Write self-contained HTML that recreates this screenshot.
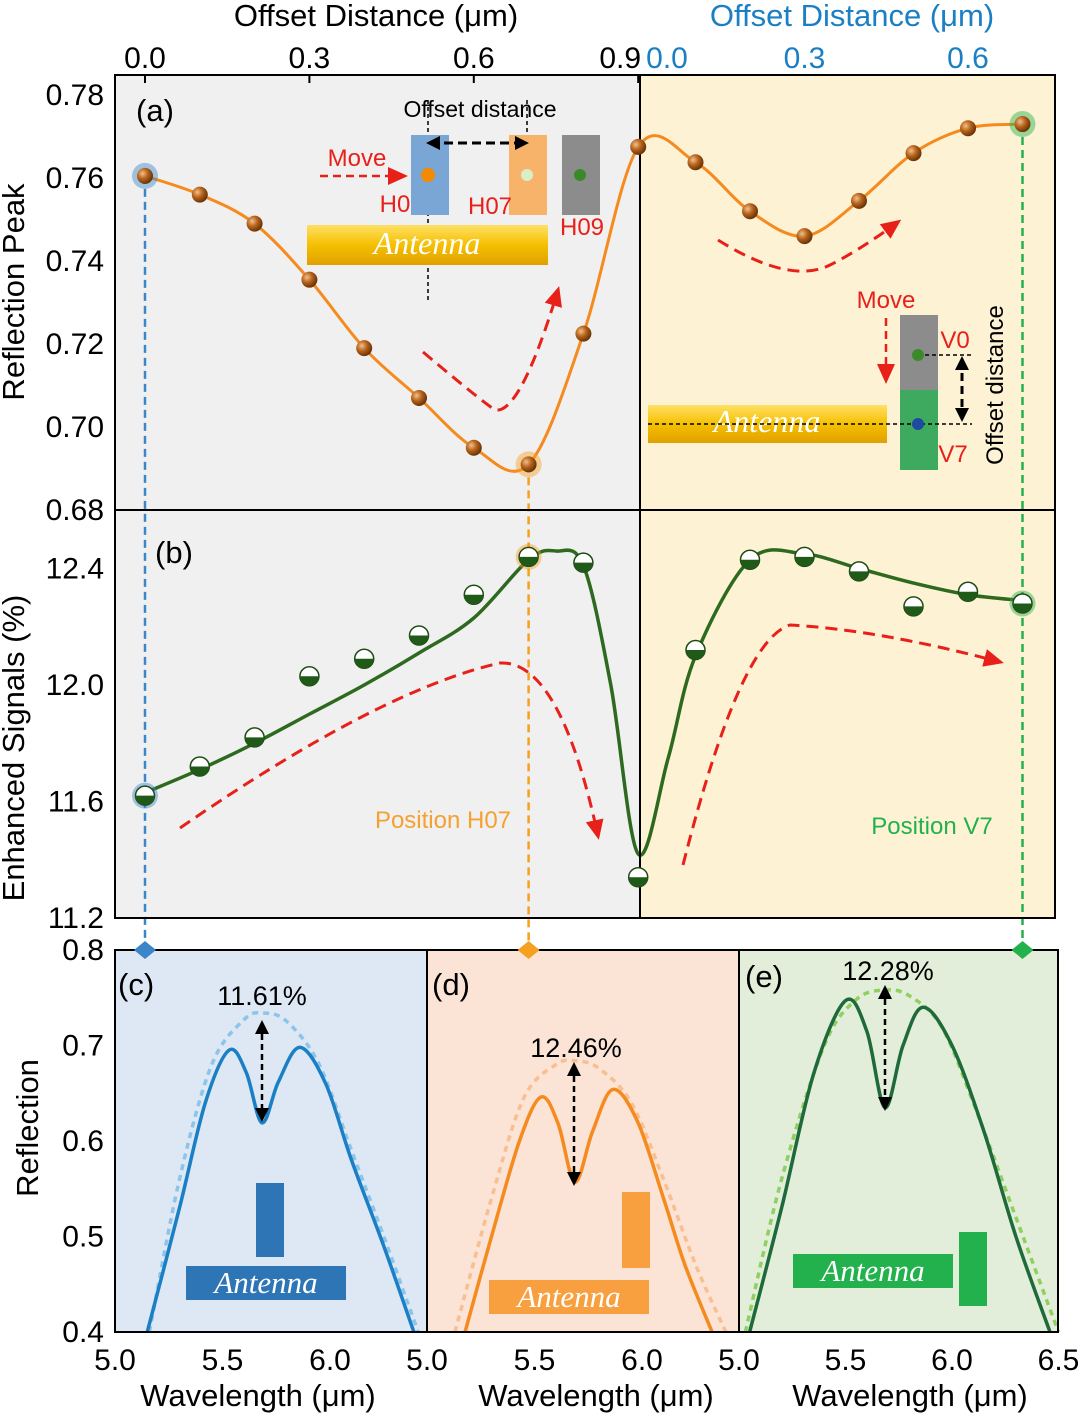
<!DOCTYPE html>
<html><head><meta charset="utf-8"><style>
html,body{margin:0;padding:0;background:#fff}
svg{display:block;font-family:"Liberation Sans",sans-serif}
</style></head><body>
<svg id="fig" width="1080" height="1418" viewBox="0 0 1080 1418">
<defs>
<radialGradient id="ball" cx="35%" cy="35%" r="65%"><stop offset="0" stop-color="#f3c08a"/><stop offset="0.5" stop-color="#b8641c"/><stop offset="1" stop-color="#6b3508"/></radialGradient>
<linearGradient id="gold" x1="0" y1="0" x2="0" y2="1"><stop offset="0" stop-color="#ffe066"/><stop offset="0.5" stop-color="#f5c000"/><stop offset="1" stop-color="#e0a000"/></linearGradient>
<marker id="ar" markerUnits="userSpaceOnUse" markerWidth="22" markerHeight="22" refX="16" refY="11" orient="auto"><path d="M0,2L20,11L0,20z" fill="#e8201a"/></marker>
<marker id="ak" markerUnits="userSpaceOnUse" markerWidth="14" markerHeight="14" refX="10" refY="7" orient="auto"><path d="M0,0L14,7L0,14z" fill="#000"/></marker>
<marker id="aks" markerUnits="userSpaceOnUse" markerWidth="14" markerHeight="14" refX="4" refY="7" orient="auto"><path d="M14,0L0,7L14,14z" fill="#000"/></marker>
</defs>
<rect x="115" y="75" width="525" height="843" fill="#f0f0f0"/>
<rect x="640" y="75" width="415" height="843" fill="#fdf2d3"/>
<rect x="115" y="950" width="312" height="382" fill="#dde8f4"/>
<rect x="427" y="950" width="312" height="382" fill="#fbe3d6"/>
<rect x="739" y="950" width="319" height="382" fill="#e2eed9"/>
<g id="layer"></g>
<g fill="none" stroke="#000" stroke-width="2">
<rect x="115" y="75" width="940" height="843"/>
<line x1="115" y1="510" x2="1055" y2="510"/>
<line x1="640" y1="75" x2="640" y2="918"/>
<rect x="115" y="950" width="943" height="382"/>
<line x1="427" y1="950" x2="427" y2="1332"/><line x1="739" y1="950" x2="739" y2="1332"/>
</g>
<g font-size="31">
<text x="376" y="26" text-anchor="middle">Offset Distance (μm)</text>
<text x="852" y="26" text-anchor="middle" fill="#1a7fc4">Offset Distance (μm)</text>
<text transform="translate(24,292) rotate(-90)" text-anchor="middle">Reflection Peak</text>
<text transform="translate(24,748) rotate(-90)" text-anchor="middle">Enhanced Signals (%)</text>
<text transform="translate(38,1128) rotate(-90)" text-anchor="middle">Reflection</text>
<text x="258" y="1406" text-anchor="middle">Wavelength (μm)</text>
<text x="596" y="1406" text-anchor="middle">Wavelength (μm)</text>
<text x="910" y="1406" text-anchor="middle">Wavelength (μm)</text>
<text x="136" y="121">(a)</text>
<text x="155" y="563">(b)</text>
<text x="118" y="995">(c)</text>
<text x="432" y="995">(d)</text>
<text x="745" y="987">(e)</text>
</g>
<g>
<text x="480" y="117" font-size="23" text-anchor="middle">Offset distance</text>
<line x1="428" y1="100" x2="428" y2="302" stroke="#000" stroke-dasharray="4,3" stroke-width="1.5"/>
<line x1="527" y1="100" x2="527" y2="180" stroke="#000" stroke-dasharray="4,3" stroke-width="1.5"/>
<text x="357" y="166" font-size="24" fill="#e8201a" text-anchor="middle">Move</text>
<rect x="411" y="135" width="38" height="80" fill="#7aa6d6"/><circle cx="428" cy="175" r="7" fill="#f58a00"/>
<rect x="509" y="135" width="38" height="80" fill="#f8b36a"/><circle cx="527" cy="175" r="6" fill="#d8f0c8"/>
<rect x="562" y="135" width="38" height="80" fill="#8c8c8c"/><circle cx="580" cy="175" r="6" fill="#3a8a2a"/>
<line x1="430" y1="143" x2="525" y2="143" stroke="#000" stroke-width="3" stroke-dasharray="9,5" marker-end="url(#ak)" marker-start="url(#aks)"/>
<line x1="320" y1="176" x2="404" y2="176" stroke="#e8201a" stroke-width="2.5" stroke-dasharray="8,5" marker-end="url(#ar)"/>
<text x="395" y="212" font-size="24" fill="#e8201a" text-anchor="middle">H0</text>
<text x="490" y="214" font-size="24" fill="#e8201a" text-anchor="middle">H07</text>
<text x="582" y="235" font-size="24" fill="#e8201a" text-anchor="middle">H09</text>
<rect x="307" y="225" width="241" height="40" fill="url(#gold)"/>
<text x="427" y="254" font-size="32" font-style="italic" font-family="Liberation Serif,serif" fill="#fff" text-anchor="middle">Antenna</text>
</g>
<g>
<text x="886" y="308" font-size="24" fill="#e8201a" text-anchor="middle">Move</text>
<line x1="886" y1="318" x2="886" y2="380" stroke="#e8201a" stroke-width="2.5" stroke-dasharray="8,5" marker-end="url(#ar)"/>
<rect x="900" y="315" width="38" height="75" fill="#8c8c8c"/><rect x="900" y="390" width="38" height="80" fill="#3daa60"/>
<rect x="648" y="405" width="239" height="38" fill="url(#gold)"/>
<text x="767" y="432" font-size="32" font-style="italic" font-family="Liberation Serif,serif" fill="#fff" text-anchor="middle">Antenna</text>
<line x1="918" y1="355" x2="972" y2="355" stroke="#000" stroke-dasharray="4,3" stroke-width="1.5"/>
<line x1="648" y1="424" x2="972" y2="424" stroke="#000" stroke-dasharray="4,3" stroke-width="1.5"/>
<circle cx="918" cy="355" r="6" fill="#3a8a2a"/><circle cx="918" cy="424" r="6" fill="#1f4aa0"/>
<line x1="962" y1="360" x2="962" y2="418" stroke="#000" stroke-width="3" stroke-dasharray="8,5" marker-end="url(#ak)" marker-start="url(#aks)"/>
<text x="955" y="348" font-size="24" fill="#e8201a" text-anchor="middle">V0</text>
<text x="953" y="462" font-size="24" fill="#e8201a" text-anchor="middle">V7</text>
<text transform="translate(1003,385) rotate(-90)" font-size="24" text-anchor="middle">Offset distance</text>
</g>
<g fill="none" stroke="#e8201a" stroke-width="3" stroke-dasharray="12,7">
<path d="M423,352 Q480,400 495,410 Q520,415 558,290" marker-end="url(#ar)"/>
<path d="M718,240 Q790,285 830,265 Q860,250 898,222" marker-end="url(#ar)"/>
<path d="M180,828 Q380,690 500,663 Q560,660 598,836" marker-end="url(#ar)"/>
<path d="M683,865 Q740,640 790,625 Q880,630 1000,662" marker-end="url(#ar)"/>
</g>
<text x="443" y="828" font-size="24" fill="#f5a030" text-anchor="middle">Position H07</text>
<text x="932" y="834" font-size="24" fill="#22b14c" text-anchor="middle">Position V7</text>
<rect x="256" y="1183" width="28" height="74" fill="#2e75b6"/>
<rect x="186" y="1266" width="160" height="34" fill="#2e75b6"/>
<text x="266" y="1293" font-size="31" font-style="italic" font-family="Liberation Serif,serif" fill="#fff" text-anchor="middle">Antenna</text>
<rect x="622" y="1192" width="28" height="76" fill="#f8a040"/>
<rect x="489" y="1280" width="160" height="34" fill="#f8a040"/>
<text x="569" y="1307" font-size="31" font-style="italic" font-family="Liberation Serif,serif" fill="#fff" text-anchor="middle">Antenna</text>
<rect x="959" y="1232" width="28" height="74" fill="#22b14c"/>
<rect x="793" y="1254" width="160" height="34" fill="#22b14c"/>
<text x="873" y="1281" font-size="31" font-style="italic" font-family="Liberation Serif,serif" fill="#fff" text-anchor="middle">Antenna</text>
<g font-size="27" text-anchor="middle">
<text x="262" y="1005">11.61%</text>
<text x="576" y="1057">12.46%</text>
<text x="888" y="980">12.28%</text>
</g>
<g stroke="#000" stroke-width="2.5" stroke-dasharray="6,4" fill="none">
<line x1="262" y1="1024" x2="262" y2="1118" marker-end="url(#ak)" marker-start="url(#aks)"/>
<line x1="574" y1="1066" x2="574" y2="1182" marker-end="url(#ak)" marker-start="url(#aks)"/>
<line x1="885" y1="989" x2="885" y2="1107" marker-end="url(#ak)" marker-start="url(#aks)"/>
</g>
<g id="layer2"></g>
</svg>
<script>
const offsets = [0,0.1,0.2,0.3,0.4,0.5,0.6,0.7,0.8,0.9];
const offsetsRight = [0.1,0.2,0.3,0.4,0.5,0.6,0.7];
const peakLeft = [0.7605,0.756,0.749,0.7355,0.719,0.707,0.695,0.691,0.7225,0.7675];
const peakRight = [0.7638,0.752,0.746,0.7545,0.766,0.772,0.773];
const sigLeft = [11.62,11.72,11.82,12.03,12.09,12.17,12.31,12.44,12.42,11.34];
const sigRight = [12.12,12.43,12.44,12.39,12.27,12.32,12.28];
const fitBLeftX = [0,0.1,0.2,0.3,0.4,0.5,0.6,0.7,0.75,0.8,0.85,0.9];
const fitBLeftY = [11.63,11.71,11.80,11.90,12.0,12.11,12.23,12.43,12.46,12.41,12.0,11.42];
const fitBRightX = [0.05,0.1,0.2,0.3,0.4,0.5,0.6,0.7];
const fitBRightY = [11.75,12.1,12.43,12.45,12.40,12.35,12.31,12.29];
const topTicksLeft = ["0.0","0.3","0.6","0.9"];
const topTicksRight = ["0.0","0.3","0.6"];
const ticksA = ["0.78","0.76","0.74","0.72","0.70","0.68"];
const ticksB = ["12.4","12.0","11.6","11.2"];
const ticksR = ["0.8","0.7","0.6","0.5","0.4"];
const ticksW = ["5.0","5.5","6.0"];
const specCSolidX = [5.15,5.3,5.42,5.53,5.61,5.684,5.76,5.86,5.98,6.1,6.25,6.39];
const specCSolidY = [0.40,0.53,0.64,0.695,0.672,0.619,0.662,0.698,0.66,0.58,0.49,0.40];
const specCDashX = [5.16,5.3,5.45,5.6,5.69,5.8,5.95,6.1,6.25,6.41];
const specCDashY = [0.40,0.56,0.68,0.727,0.734,0.725,0.68,0.59,0.50,0.40];
const specDSolidX = [5.177,5.3,5.43,5.53,5.61,5.688,5.77,5.865,5.98,6.1,6.2,6.326];
const specDSolidY = [0.40,0.50,0.60,0.646,0.618,0.557,0.61,0.654,0.62,0.54,0.47,0.40];
const specDDashX = [5.13,5.3,5.45,5.6,5.69,5.8,5.95,6.1,6.25,6.39];
const specDDashY = [0.40,0.54,0.645,0.68,0.684,0.676,0.64,0.56,0.47,0.40];
const specESolidX = [5.05,5.2,5.35,5.5,5.6,5.685,5.77,5.865,6.0,6.15,6.3,6.46];
const specESolidY = [0.40,0.53,0.67,0.747,0.715,0.635,0.70,0.74,0.70,0.61,0.50,0.40];
const specEDashX = [5.03,5.2,5.4,5.55,5.685,5.8,5.95,6.1,6.3,6.5];
const specEDashY = [0.40,0.56,0.70,0.748,0.758,0.752,0.72,0.64,0.52,0.40];
const xL = d => 145 + d*548;
const xR = d => 641 + d*545;
const yA = v => 95 + (0.78 - v)/0.02*83;
const yB = v => 918 - (v - 11.2)/0.4*116.5;
const yR = v => 950 + (0.8 - v)/0.1*95.5;
const wC = w => 115 + (w-5)/0.5*107.5;
const wD = w => 427 + (w-5)/0.5*107.5;
const wE = w => 739 + (w-5)/0.5*106.5;
const NS='http://www.w3.org/2000/svg';
const layer=document.getElementById('layer');
const layer2=document.getElementById('layer2');
function mk(tag,attrs,parent){const e=document.createElementNS(NS,tag);for(const k in attrs)e.setAttribute(k,attrs[k]);(parent||layer2).appendChild(e);return e;}
function smooth(p){let d='M'+p[0][0]+','+p[0][1];for(let i=0;i<p.length-1;i++){const p0=p[i-1]||p[i],p1=p[i],p2=p[i+1],p3=p[i+2]||p2;d+=' C'+(p1[0]+(p2[0]-p0[0])/6)+','+(p1[1]+(p2[1]-p0[1])/6)+' '+(p2[0]-(p3[0]-p1[0])/6)+','+(p2[1]-(p3[1]-p1[1])/6)+' '+p2[0]+','+p2[1];}return d;}
topTicksLeft.forEach(t=>{const e=mk('text',{x:xL(+t)+(t==='0.9'?-18:0),y:68,'font-size':30,'text-anchor':'middle'});e.textContent=t;

mk('line',{x1:xL(+t),y1:75,x2:xL(+t),y2:83,stroke:'#000','stroke-width':2});});
topTicksRight.forEach(t=>{const e=mk('text',{x:xR(+t)+(t==='0.0'?26:0),y:68,'font-size':30,'text-anchor':'middle',fill:'#1a7fc4'});e.textContent=t;
});
ticksA.forEach(t=>{const e=mk('text',{x:104,y:yA(+t)+10,'font-size':30,'text-anchor':'end'});e.textContent=t;
});
ticksB.forEach(t=>{const e=mk('text',{x:104,y:yB(+t)+10,'font-size':30,'text-anchor':'end'});e.textContent=t;
});
ticksR.forEach(t=>{const e=mk('text',{x:104,y:yR(+t)+10,'font-size':30,'text-anchor':'end'});e.textContent=t;
});
[[wC,ticksW],[wD,ticksW],[wE,ticksW.concat(['6.5'])]].forEach(([f,ts])=>{ts.forEach(t=>{const e=mk('text',{x:f(+t),y:1370,'font-size':30,'text-anchor':'middle'});e.textContent=t;
});});
const ptsA=offsets.map((d,i)=>[xL(d),yA(peakLeft[i])]).concat(offsetsRight.map((d,i)=>[xR(d),yA(peakRight[i])]));
const ca=mk('path',{d:smooth(ptsA),fill:'none',stroke:'#f58a1f','stroke-width':3},layer);

const ptsB=fitBLeftX.map((d,i)=>[xL(d),yB(fitBLeftY[i])]).concat(fitBRightX.map((d,i)=>[xR(d),yB(fitBRightY[i])]));
const cb=mk('path',{d:smooth(ptsB),fill:'none',stroke:'#2d6a1f','stroke-width':3.5},layer);

[[xL(0),yA(peakLeft[0]),yB(sigLeft[0]),'#3b86c8'],[xL(0.7),yA(peakLeft[7]),yB(sigLeft[7]),'#f5a020'],[xR(0.7),yA(peakRight[6]),yB(sigRight[6]),'#22b14c']].forEach(([x,y,y2,c])=>{
const l=mk('line',{x1:x,y1:y,x2:x,y2:950,stroke:c,'stroke-width':2.5,'stroke-dasharray':'8,5'},layer);

const dm=mk('path',{d:`M${x-11},950 L${x},941 L${x+11},950 L${x},959Z`,fill:c});

[y,y2].forEach(yy=>{
const h=mk('circle',{cx:x,cy:yy,r:13,fill:c,opacity:0.45},layer);
});
});
ptsA.forEach(p=>{const c=mk('circle',{cx:p[0],cy:p[1],r:8,fill:'url(#ball)'});
});
const sp=offsets.map((d,i)=>[xL(d),yB(sigLeft[i])]).concat(offsetsRight.map((d,i)=>[xR(d),yB(sigRight[i])]));
sp.forEach(p=>{const g=mk('g',{});

mk('circle',{cx:p[0],cy:p[1],r:9.5,fill:'#fff',stroke:'#1f4a14','stroke-width':1.5},g);
mk('path',{d:`M${p[0]-9.5},${p[1]} A9.5,9.5 0 0 0 ${p[0]+9.5},${p[1]}Z`,fill:'#1f5a18'},g);});
function spec(f,xs,ys,color,dash,name){const p=xs.map((w,i)=>[f(w),yR(ys[i])]);
const e=mk('path',{d:smooth(p),fill:'none',stroke:color,'stroke-width':3.5,'stroke-dasharray':dash?'6,5':'none'},layer);
}
spec(wC,specCDashX,specCDashY,'#8cc4ea',true,'spectrum-c-envelope');
spec(wC,specCSolidX,specCSolidY,'#1a7fc4',false,'spectrum-c');
spec(wD,specDDashX,specDDashY,'#f8bf90',true,'spectrum-d-envelope');
spec(wD,specDSolidX,specDSolidY,'#f58a1f',false,'spectrum-d');
spec(wE,specEDashX,specEDashY,'#8fd060',true,'spectrum-e-envelope');
spec(wE,specESolidX,specESolidY,'#1f6a3a',false,'spectrum-e');
</script>
</body></html>
